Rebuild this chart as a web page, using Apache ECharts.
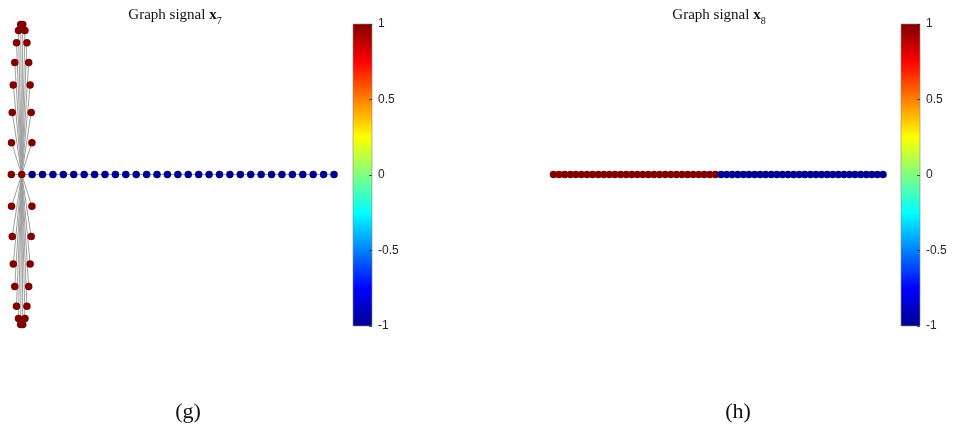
<!DOCTYPE html>
<html>
<head>
<meta charset="utf-8">
<script src="https://cdn.jsdelivr.net/npm/echarts@6/dist/echarts.min.js"></script>
<style>
  html, body { margin: 0; padding: 0; background: #ffffff; }
  #chart { width: 956px; height: 440px; }
</style>
</head>
<body>
<div id="chart"></div>
<script>
// ---- (g) comet graph: a hub, its leaves laid out on a squeezed circle, and a tail ----
const leafX = [
  -0.10, -0.31, -0.50, -0.67, -0.81, -0.91, -0.98, -1.00, -0.98, -0.91, -0.81, -0.67, -0.50, -0.31, -0.10,
   0.10,  0.31,  0.50,  0.67,  0.81,  0.91,  0.98,  0.98,  0.91,  0.81,  0.67,  0.50,  0.31,  0.10
];
const leafY = [
   0.99,  0.95,  0.87,  0.74,  0.59,  0.41,  0.21,  0.00, -0.21, -0.41, -0.59, -0.74, -0.87, -0.95, -0.99,
   0.99,  0.95,  0.87,  0.74,  0.59,  0.41,  0.21, -0.21, -0.41, -0.59, -0.74, -0.87, -0.95, -0.99
];
const leafValues = [
  1, 1, 1, 1, 1, 1, 1, 1, 1, 1, 1, 1, 1, 1, 1,
  1, 1, 1, 1, 1, 1, 1, 1, 1, 1, 1, 1, 1, 1
];
const hubPos = [0, 0];
const hubValue = 1;
const tailX = [1, 2, 3, 4, 5, 6, 7, 8, 9, 10, 11, 12, 13, 14, 15,
               16, 17, 18, 19, 20, 21, 22, 23, 24, 25, 26, 27, 28, 29, 30];
const tailValues = [-1, -1, -1, -1, -1, -1, -1, -1, -1, -1, -1, -1, -1, -1, -1,
                    -1, -1, -1, -1, -1, -1, -1, -1, -1, -1, -1, -1, -1, -1, -1];

// ---- (h) path graph ----
const pathX = [1, 2, 3, 4, 5, 6, 7, 8, 9, 10, 11, 12, 13, 14, 15,
               16, 17, 18, 19, 20, 21, 22, 23, 24, 25, 26, 27, 28, 29, 30,
               31, 32, 33, 34, 35, 36, 37, 38, 39, 40, 41, 42, 43, 44, 45,
               46, 47, 48, 49, 50, 51, 52, 53, 54, 55, 56, 57, 58, 59, 60];
const pathValues = [1, 1, 1, 1, 1, 1, 1, 1, 1, 1, 1, 1, 1, 1, 1,
                    1, 1, 1, 1, 1, 1, 1, 1, 1, 1, 1, 1, 1, 1, 1,
                    -1, -1, -1, -1, -1, -1, -1, -1, -1, -1, -1, -1, -1, -1, -1,
                    -1, -1, -1, -1, -1, -1, -1, -1, -1, -1, -1, -1, -1, -1, -1];

// ---- colour scale ----
const colorRange = [-1, 1];
const colorbarTicks = [-1, -0.5, 0, 0.5, 1];
const jetColors = ['#00008f', '#0000ff', '#0080ff', '#00ffff', '#80ff80',
                   '#ffff00', '#ff8000', '#ff0000', '#800000'];
const titles = ['Graph signal ', 'Graph signal '];
const signalIndex = ['7', '8'];
const captions = ['(g)', '(h)'];

// ---- build marks ----
const leftNodes = [];
for (let i = 0; i < leafX.length; i++) leftNodes.push([leafX[i], leafY[i], leafValues[i]]);
leftNodes.push([hubPos[0], hubPos[1], hubValue]);
for (let i = 0; i < tailX.length; i++) leftNodes.push([tailX[i], 0, tailValues[i]]);

const leftEdges = [];
for (let i = 0; i < leafX.length; i++) leftEdges.push({ coords: [hubPos, [leafX[i], leafY[i]]] });
leftEdges.push({ coords: [hubPos, [tailX[0], 0]] });
for (let i = 0; i + 1 < tailX.length; i++) leftEdges.push({ coords: [[tailX[i], 0], [tailX[i + 1], 0]] });

const rightNodes = pathX.map((x, i) => [x, 0, pathValues[i]]);
const rightEdges = [];
for (let i = 0; i + 1 < pathX.length; i++) rightEdges.push({ coords: [[pathX[i], 0], [pathX[i + 1], 0]] });

const gradientStops = jetColors.map((c, i) => ({ offset: i / (jetColors.length - 1), color: c }));

const serif = "'Liberation Serif', 'DejaVu Serif', serif";
const sans = "'Liberation Sans', Arial, sans-serif";

function titleRich() {
  return {
    n: { fontFamily: serif, fontSize: 15, fontWeight: 'normal', color: '#111111', lineHeight: 17, verticalAlign: 'bottom' },
    b: { fontFamily: serif, fontSize: 15, fontWeight: 'bold', color: '#111111', lineHeight: 17, verticalAlign: 'bottom' },
    s: { fontFamily: serif, fontSize: 10, fontWeight: 'normal', color: '#111111', lineHeight: 12, verticalAlign: 'bottom', padding: [0, 0, -3, 0] }
  };
}

function hiddenAxis(extra) {
  return Object.assign({
    type: 'value', show: false, splitLine: { show: false }
  }, extra);
}

function colorbarYAxis(gridIndex) {
  return {
    type: 'value', gridIndex: gridIndex, min: colorRange[0], max: colorRange[1],
    interval: colorbarTicks[1] - colorbarTicks[0], position: 'right', z: 5,
    axisLine: { show: false, onZero: false },
    splitLine: { show: false },
    axisTick: { show: true, inside: true, length: 3, lineStyle: { color: '#262626', width: 0.8 } },
    axisLabel: { margin: 6, fontSize: 12, color: '#262626', fontFamily: sans,
                 formatter: v => String(v) }
  };
}

function colorbarSeries(axisIndex) {
  return {
    type: 'custom', xAxisIndex: axisIndex, yAxisIndex: axisIndex, silent: true, clip: false, z: 0,
    data: [[colorRange[0], colorRange[1]]],
    renderItem: (params, api) => {
      const bottom = api.coord([0, api.value(0)]);
      const top = api.coord([1, api.value(1)]);
      return {
        type: 'rect',
        shape: { x: bottom[0], y: top[1], width: top[0] - bottom[0], height: bottom[1] - top[1] },
        style: {
          fill: new echarts.graphic.LinearGradient(0, 1, 0, 0, gradientStops),
          stroke: '#8a8a8a', lineWidth: 0.6
        }
      };
    }
  };
}

function titleText(i) {
  return '{n|' + titles[i] + '}{b|x}{s|' + signalIndex[i] + '}';
}

const chart = echarts.init(document.getElementById('chart'), null, { renderer: 'canvas' });
chart.setOption({
  backgroundColor: '#ffffff',
  animation: false,
  title: [
    { text: titleText(0), left: 170, top: 1, textAlign: 'center',
      textStyle: { fontWeight: 'normal', rich: titleRich() } },
    { text: titleText(1), left: 714, top: 1, textAlign: 'center',
      textStyle: { fontWeight: 'normal', rich: titleRich() } },
    { text: captions[0], left: 183, top: 396, textAlign: 'center',
      textStyle: { fontFamily: serif, fontSize: 22, fontWeight: 'normal', color: '#111111' } },
    { text: captions[1], left: 733, top: 396, textAlign: 'center',
      textStyle: { fontFamily: serif, fontSize: 22, fontWeight: 'normal', color: '#111111' } }
  ],
  grid: [
    { left: 11.3, top: 23, width: 322.7, height: 303 },
    { left: 553.5, top: 23, width: 329.5, height: 303 },
    { left: 353, top: 24, width: 19, height: 302 },
    { left: 901, top: 24, width: 19, height: 302 }
  ],
  xAxis: [
    hiddenAxis({ gridIndex: 0, min: -1, max: 30 }),
    hiddenAxis({ gridIndex: 1, min: 1, max: 60 }),
    hiddenAxis({ gridIndex: 2, min: 0, max: 1 }),
    hiddenAxis({ gridIndex: 3, min: 0, max: 1 })
  ],
  yAxis: [
    hiddenAxis({ gridIndex: 0, min: -1, max: 1 }),
    hiddenAxis({ gridIndex: 1, min: -1, max: 1 }),
    colorbarYAxis(2),
    colorbarYAxis(3)
  ],
  visualMap: {
    type: 'continuous', show: false, min: colorRange[0], max: colorRange[1],
    dimension: 2, seriesIndex: [1, 3],
    inRange: { color: jetColors }
  },
  series: [
    { type: 'lines', coordinateSystem: 'cartesian2d', xAxisIndex: 0, yAxisIndex: 0, silent: true,
      data: leftEdges, lineStyle: { color: '#a0a0a0', width: 1, opacity: 1 }, z: 1 },
    { type: 'scatter', xAxisIndex: 0, yAxisIndex: 0, data: leftNodes, symbolSize: 7.5,
      itemStyle: { opacity: 1 }, z: 2 },
    { type: 'lines', coordinateSystem: 'cartesian2d', xAxisIndex: 1, yAxisIndex: 1, silent: true,
      data: rightEdges, lineStyle: { color: '#a0a0a0', width: 1, opacity: 1 }, z: 1 },
    { type: 'scatter', xAxisIndex: 1, yAxisIndex: 1, data: rightNodes, symbolSize: 7.5,
      itemStyle: { opacity: 1 }, z: 2 },
    colorbarSeries(2),
    colorbarSeries(3)
  ]
});
</script>
</body>
</html>
